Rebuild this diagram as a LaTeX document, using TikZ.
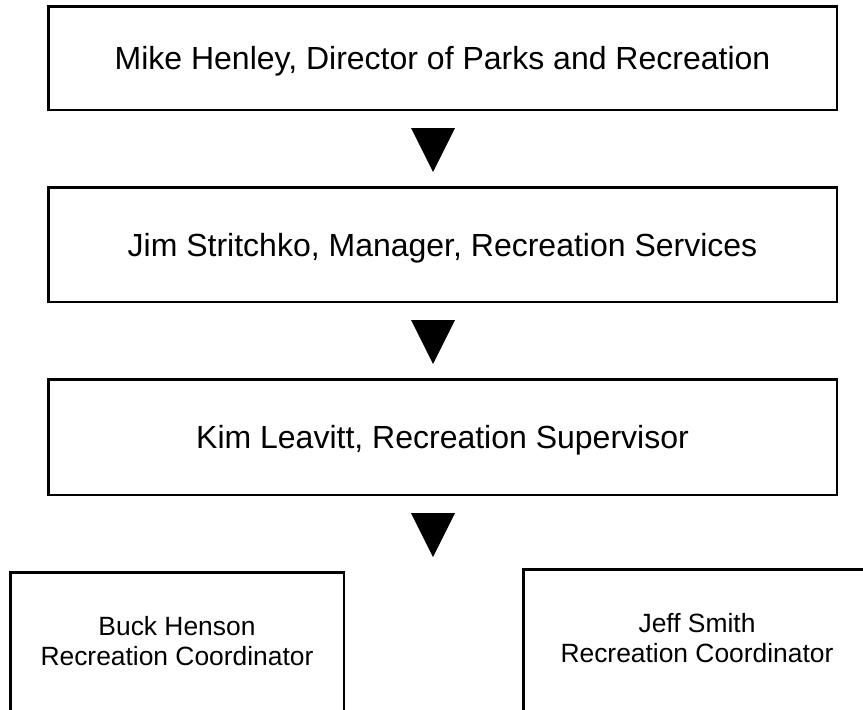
\documentclass[tikz,border=0pt]{standalone}
\usepackage{fontspec}
\setmainfont{Liberation Sans}
\usetikzlibrary{positioning,calc}

\begin{document}
\begin{tikzpicture}[
  x = 1pt,
  y = 1pt,
  node distance = 75pt,
  box/.style={draw,line width=2.5pt,inner sep=0pt,minimum width=788.5pt,
    font=\fontsize{32}{36}\selectfont,text depth=0pt},
  smallbox/.style={draw,line width=2.5pt,inner sep=0pt,align=center,
    text depth=10pt,minimum height=147.5pt,font=\fontsize{26.4}{30.4}\selectfont},
  pointer/.style={fill=black},
  ]
  \useasboundingbox (0,0) rectangle (863,-710);
  \clip (0,0) rectangle (863,-710);

  \node [box,minimum height=103.5pt] (director) at (442.5,-58)
    {Mike Henley, Director of Parks and Recreation};
  \node [box,minimum height=114.5pt,below=of director] (manager)
    {Jim Stritchko, Manager, Recreation Services};
  \node [box,minimum height=115.5pt,below=of manager] (supervisor)
    {Kim Leavitt, Recreation Supervisor};

  \node [smallbox,minimum width=333.5pt] (buck) at (177,-646)
    {Buck Henson\\Recreation Coordinator};
  \node [smallbox,minimum width=347.5pt] (jeff) at (697,-643)
    {Jeff Smith\\Recreation Coordinator};

  \foreach \a in {director,manager,supervisor}
    \fill [pointer] ($(\a.south)+(-31.5,-17)$) -- ++(44,0) -- ++(-22,-44) -- cycle;
\end{tikzpicture}
\end{document}
